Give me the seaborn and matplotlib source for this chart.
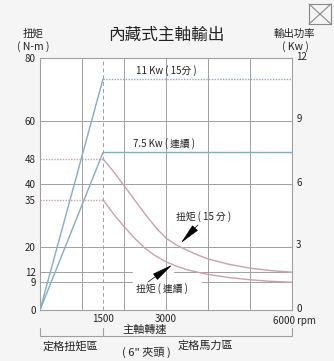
import matplotlib
matplotlib.use("Agg")
import matplotlib.pyplot as plt
import matplotlib.transforms as mtransforms
import seaborn as sns
import pandas as pd
from matplotlib.lines import Line2D

sns.set_theme(style="white")
plt.rcParams['font.family'] = ['Noto Sans CJK TC', 'DejaVu Sans']

# ---- data ----
title = "內藏式主軸輸出"
rpm_curve = [1500, 1750, 2000, 2250, 2500, 2750, 3000, 3250, 3500, 3750, 4000, 4500, 5000, 5500, 6000]
torque_15min = [48, 44, 39.5, 35, 30.5, 26.3, 22.8, 20.6, 19, 17.5, 16.2, 14.5, 13.3, 12.5, 12]
torque_cont = [35, 30.5, 26.5, 22.8, 19.6, 17.2, 15.3, 13.9, 12.8, 12, 11.3, 10.3, 9.6, 9.1, 8.8]
rpm_power = [0, 1500, 6000]
power_15min = [0, 11, 11]
power_cont = [0, 7.5, 7.5]
torque_ticks = [0, 9, 12, 20, 35, 40, 48, 60, 80]
power_ticks = [0, 3, 6, 9, 12]
rpm_ticks = [1500, 3000, 6000]
rpm_ticklabels = ["1500", "3000", "6000"]
rpm_grid = [1000, 2000, 3000, 4000, 5000]

W, H = 334, 361
BG = "#f5f5f5"
GRID = "#a0a0a0"
BLUE = "#86acc4"
PINK = "#c8a0b2"
TXT = "#222222"

fig = plt.figure(figsize=(W / 100, H / 100), dpi=100, facecolor=BG)
ax = fig.add_axes([40 / W, 1 - 310 / H, 252 / W, 252 / H])
ax.set_facecolor("white")
ax.set_xlim(0, 6000)
ax.set_ylim(0, 80)
for s in ax.spines.values():
    s.set_color(GRID)
    s.set_linewidth(0.8)

# grid
for g in rpm_grid:
    ax.axvline(g, color=GRID, lw=0.7, zorder=1)
ax.axvline(1500, color=GRID, lw=0.7, ls=(0, (4, 3)), zorder=1)
for g in [20, 40, 60]:
    ax.axhline(g, color=GRID, lw=0.7, zorder=1)
ax.plot([0, 2200], [12, 12], color=GRID, lw=0.7, zorder=1)
ax.plot([3200, 6000], [12, 12], color=GRID, lw=0.7, zorder=1)
ax.plot([0, 2200], [9, 9], color=GRID, lw=0.7, zorder=1)
ax.plot([3850, 6000], [9, 9], color=GRID, lw=0.7, zorder=1)

# torque curves
df15 = pd.DataFrame({"rpm": rpm_curve, "torque": torque_15min})
dfc = pd.DataFrame({"rpm": rpm_curve, "torque": torque_cont})
sns.lineplot(data=df15, x="rpm", y="torque", ax=ax, color=PINK, lw=1.0, zorder=3)
sns.lineplot(data=dfc, x="rpm", y="torque", ax=ax, color=PINK, lw=1.0, zorder=3)
ax.plot([0, rpm_curve[0]], [torque_15min[0]] * 2, color=PINK, lw=1.0, ls=(0, (1, 1)), zorder=3)
ax.plot([0, rpm_curve[0]], [torque_cont[0]] * 2, color=PINK, lw=1.0, ls=(0, (1, 1)), zorder=3)

ax.set_yticks(torque_ticks)
ax.set_yticklabels([str(t) for t in torque_ticks])
ax.set_xticks(rpm_ticks)
ax.set_xticklabels(rpm_ticklabels)
ax.tick_params(axis="both", length=0, labelsize=7, colors=TXT, pad=3)
ax.set_xlabel("")
ax.set_ylabel("")
ax.xaxis.get_ticklabels()[-1].set_visible(False)
ax.annotate("6000 rpm", xy=(6000, 0), xytext=(-14, -4.5), textcoords="offset points",
            ha="left", va="top", fontsize=7, color=TXT, annotation_clip=False)

# power axis
ax2 = ax.twinx()
ax2.set_ylim(0, 12)
ax2.set_yticks(power_ticks)
ax2.set_yticklabels([str(t) for t in power_ticks])
ax2.tick_params(axis="y", length=0, labelsize=7, colors=TXT, pad=3)
shift = mtransforms.ScaledTranslation(0, 2.5 / 100, fig.dpi_scale_trans)
for lab in ax2.get_yticklabels():
    lab.set_transform(lab.get_transform() + shift)
for s in ax2.spines.values():
    s.set_visible(False)
dfp15 = pd.DataFrame({"rpm": rpm_power, "kw": power_15min})
dfpc = pd.DataFrame({"rpm": rpm_power, "kw": power_cont})
sns.lineplot(data=dfp15.iloc[:2], x="rpm", y="kw", ax=ax2, color=BLUE, lw=1.0)
ax2.plot(rpm_power[1:], power_15min[1:], color=BLUE, lw=1.0, ls=(0, (1, 1)))
sns.lineplot(data=dfpc, x="rpm", y="kw", ax=ax2, color=BLUE, lw=1.0)
ax2.set_ylabel("")
ax2.set_xlim(0, 6000)

# in-plot labels
ax.text(3000, 76, "11 Kw ( 15分 )", fontsize=7, ha="center", va="center", color=TXT)
ax.text(2950, 52.7, "7.5 Kw ( 連續 )", fontsize=7, ha="center", va="center", color=TXT)
ax.text(3905, 29.8, "扭矩 ( 15 分 )", fontsize=7, ha="center", va="center", color=TXT)
ax.text(2900, 6.7, "扭矩 ( 連續 )", fontsize=7, ha="center", va="center", color=TXT)
arrow = dict(arrowstyle="-|>,head_length=1.1,head_width=0.2", color="black", lw=0.5,
             shrinkA=0, shrinkB=0)
ax.annotate("", xy=(3357, 21.3), xytext=(3760, 27.0), arrowprops=arrow, zorder=5)
ax.annotate("", xy=(3143, 14.3), xytext=(2571, 8.9), arrowprops=arrow, zorder=5)

# outer texts
def ft(x, y, s, size, **kw):
    fig.text(x / W, 1 - y / H, s, fontsize=size, ha="center", va="center", color=TXT, **kw)

ft(166, 35, title, 12)
ft(33, 34, "扭矩", 7.5)
ft(33, 47, "( N-m )", 7.5)
ft(294, 34, "輸出功率", 7.5)
ft(295, 47, "( Kw )", 7.5)
ft(145, 330, "主軸轉速", 8)
ft(70, 346, "定格扭矩區", 8)
ft(146, 352, "( 6\" 夾頭 )", 8)
ft(205, 346, "定格馬力區", 8)

def fl(xs, ys, **kw):
    fig.add_artist(Line2D([x / W for x in xs], [1 - y / H for y in ys],
                          transform=fig.transFigure, color=kw.pop("color", GRID), lw=0.8, **kw))

fl([40, 292], [336, 336])
fl([40, 40], [328, 336])
fl([103, 103], [328, 336])
fl([292, 292], [328, 336])
# icon
fl([309, 331, 331, 309, 309], [4, 4, 24, 24, 4], color="#888888")
fl([309, 331], [4, 24], color="#888888")
fl([309, 331], [24, 4], color="#888888")

fig.savefig("out.png", dpi=100, facecolor=BG)
